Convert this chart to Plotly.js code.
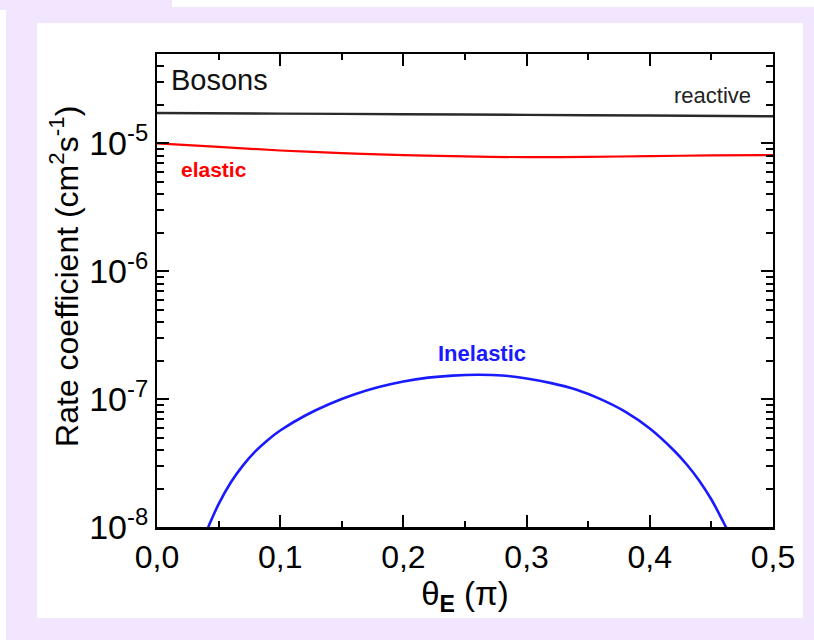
<!DOCTYPE html>
<html>
<head>
<meta charset="utf-8">
<script src="https://cdn.plot.ly/plotly-3.0.1.min.js"></script>
<style>
  html, body { margin: 0; padding: 0; background: #ffffff; }
  #wrap { position: relative; width: 814px; height: 640px; overflow: hidden; background: #ffffff; }
  .lav { position: absolute; background: #F1E6FD; }
  .panel { position: absolute; background: #ffffff; }
  #plot { position: absolute; left: 0; top: 0; width: 814px; height: 640px; }
</style>
</head>
<body>
<div id="wrap">
  <div class="lav" style="left:0;top:0;width:172px;height:10px;"></div>
  <div class="lav" style="left:6px;top:7px;width:808px;height:633px;"></div>
  <div class="panel" style="left:37px;top:23px;width:766px;height:595px;"></div>
  <div id="plot"></div>
</div>
<script>
// theta_E in units of pi
const reactiveX = [0.0, 0.1, 0.2, 0.3, 0.4, 0.5];
const reactiveY = [1.73e-5, 1.71e-5, 1.69e-5, 1.67e-5, 1.65e-5, 1.63e-5];

const elasticX = [0.0, 0.05, 0.1, 0.15, 0.2, 0.25, 0.3, 0.35, 0.4, 0.45, 0.5];
const elasticY = [1.0e-5, 9.4e-6, 8.8e-6, 8.4e-6, 8.1e-6, 7.9e-6, 7.8e-6, 7.85e-6, 7.95e-6, 8.05e-6, 8.1e-6];

const inelasticX = [0.040, 0.042, 0.05, 0.06, 0.07, 0.08, 0.09, 0.10, 0.12, 0.14, 0.16, 0.18, 0.20, 0.22, 0.24, 0.26, 0.28, 0.30, 0.32, 0.34, 0.36, 0.38, 0.40, 0.42, 0.43, 0.44, 0.45, 0.46, 0.4635];
const inelasticY = [9.2e-9, 1.02e-8, 1.51e-8, 2.24e-8, 3.05e-8, 3.92e-8, 4.80e-8, 5.68e-8, 7.41e-8, 9.16e-8, 1.086e-7, 1.242e-7, 1.374e-7, 1.472e-7, 1.528e-7, 1.549e-7, 1.531e-7, 1.449e-7, 1.334e-7, 1.189e-7, 1.0e-7, 7.98e-8, 5.89e-8, 3.93e-8, 3.08e-8, 2.31e-8, 1.64e-8, 1.08e-8, 9.3e-9];

const yTickVals = [1e-8, 1e-7, 1e-6, 1e-5];
const yTickText = ['10<sup>-8</sup>', '10<sup>-7</sup>', '10<sup>-6</sup>', '10<sup>-5</sup>'];

const xTitle = 'θ<sub><b>E</b></sub> (π)';
const yTitle = 'Rate coefficient (cm<sup>2</sup>s<sup>-1</sup>)';

const FONT = 'Liberation Sans, Arial, sans-serif';

const traces = [
  { x: reactiveX, y: reactiveY, mode: 'lines', line: { color: '#2a2a2a', width: 2.4, shape: 'spline' }, hoverinfo: 'skip' },
  { x: elasticX, y: elasticY, mode: 'lines', line: { color: '#ff0000', width: 2.2, shape: 'spline' }, hoverinfo: 'skip' },
  { x: inelasticX, y: inelasticY, mode: 'lines', line: { color: '#1a1aff', width: 2.6, shape: 'spline' }, hoverinfo: 'skip' }
];

const layout = {
  width: 814, height: 640,
  margin: { l: 157, r: 41, t: 54, b: 113 },
  paper_bgcolor: 'rgba(0,0,0,0)',
  plot_bgcolor: '#ffffff',
  showlegend: false,
  separators: ',.',
  font: { family: FONT, color: '#000000' },
  xaxis: {
    range: [0, 0.5], dtick: 0.1, tick0: 0, tickformat: '.1f',
    ticks: 'inside', ticklen: 12, tickwidth: 2, tickcolor: '#000',
    minor: { dtick: 0.05, ticks: 'inside', ticklen: 6, tickwidth: 2, tickcolor: '#000', showgrid: false },
    showline: true, linecolor: '#000', linewidth: 2.5, mirror: 'allticks',
    showgrid: false, zeroline: false,
    tickfont: { family: FONT, size: 32, color: '#000' },
    title: { text: xTitle, font: { family: FONT, size: 33, color: '#000' }, standoff: 4 }
  },
  yaxis: {
    type: 'log', range: [-8, Math.log10(5e-5)],
    tickmode: 'array', tickvals: yTickVals, ticktext: yTickText,
    ticks: 'inside', ticklen: 12, tickwidth: 2, tickcolor: '#000',
    minor: { tickmode: 'linear', dtick: 'D1', ticks: 'inside', ticklen: 7, tickwidth: 2, tickcolor: '#000', showgrid: false },
    showline: true, linecolor: '#000', linewidth: 2, mirror: 'allticks',
    showgrid: false, zeroline: false,
    tickfont: { family: FONT, size: 34, color: '#000' }
  },
  annotations: [
    { xref: 'paper', yref: 'paper', x: -0.15, y: 0.53, xanchor: 'center', yanchor: 'middle', showarrow: false,
      textangle: -90, text: yTitle, font: { family: FONT, size: 32, color: '#000' } },
    { xref: 'paper', yref: 'paper', x: 0.02, y: 0.945, xanchor: 'left', yanchor: 'middle', showarrow: false,
      text: 'Bosons', font: { family: FONT, size: 29, color: '#111' } },
    { xref: 'paper', yref: 'paper', x: 0.968, y: 0.913, xanchor: 'right', yanchor: 'middle', showarrow: false,
      text: 'reactive', font: { family: FONT, size: 22, color: '#222' } },
    { xref: 'paper', yref: 'paper', x: 0.036, y: 0.755, xanchor: 'left', yanchor: 'middle', showarrow: false,
      text: '<b>elastic</b>', font: { family: FONT, size: 21, color: '#ff0000' } },
    { xref: 'paper', yref: 'paper', x: 0.527, y: 0.366, xanchor: 'center', yanchor: 'middle', showarrow: false,
      text: '<b>Inelastic</b>', font: { family: FONT, size: 22, color: '#1a1aff' } }
  ]
};

Plotly.newPlot('plot', traces, layout, { displayModeBar: false, staticPlot: true });
</script>
</body>
</html>
